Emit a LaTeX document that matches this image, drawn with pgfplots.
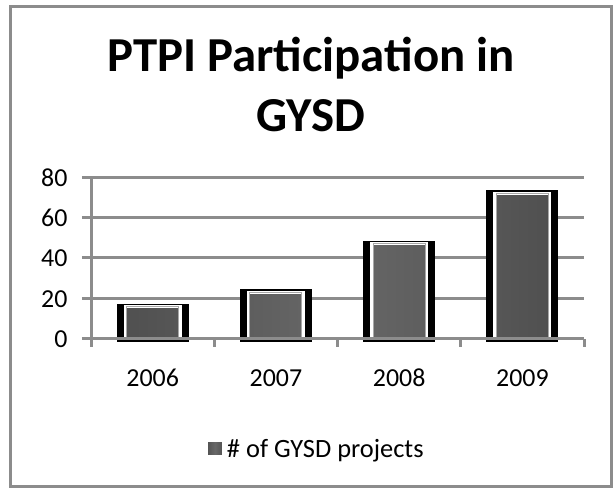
\documentclass[border=0pt]{standalone}
\usepackage{pgfplots}
\pgfplotsset{compat=1.18}
\usepackage{fontspec}
\setmainfont{Carlito}
\definecolor{gridgray}{HTML}{8C8C8C}
\definecolor{bardark}{HTML}{505050}
\definecolor{barmid}{HTML}{686868}
\definecolor{baredge}{HTML}{A8A8A8}
\begin{document}
\begin{tikzpicture}[x=1bp,y=1bp]
\useasboundingbox (0,0) rectangle (613,489);
\draw[gridgray, line width=3bp] (10,2) rectangle (611,482);
\node[font=\fontsize{49}{55}\selectfont\bfseries, anchor=base, inner sep=0pt] at (311,417) {PTPI Participation in};
\node[font=\fontsize{49}{55}\selectfont\bfseries, anchor=base, inner sep=0pt] at (311,357) {GYSD};
\begin{axis}[
  at={(91bp,142bp)}, anchor=south west, scale only axis,
  width=493bp, height=170bp,
  xmin=-0.5, xmax=3.5, ymin=-4, ymax=80,
  axis x line*=bottom, axis y line*=left,
  x axis line style={draw=none},
  y axis line style={gridgray, line width=3bp},
  ytick={0,20,...,80}, ymajorgrids,
  grid style={gridgray, line width=3bp},
  ytick align=outside, major tick length=9bp,
  ytick style={gridgray, line width=3bp},
  xtick={0,1,2,3}, xticklabels={2006,2007,2008,2009},
  major x tick style={draw=none},
  minor xtick={-0.5,0.5,1.5,2.5,3.5},
  minor tick length=8bp, xtick align=inside,
  minor x tick style={gridgray, line width=3bp},
  /pgf/number format/assume math mode=true,
  tick label style={font=\fontsize{26}{30}\selectfont},
  xticklabel style={anchor=base, yshift=-40bp},
  yticklabel style={anchor=base east, xshift=-11bp, yshift=-9bp},
  legend style={at={(0.455,-0.6)}, anchor=center, draw=none, fill=none,
    font=\fontsize{26.5}{30}\selectfont},
  legend image code/.code={\fill[left color=bardark,right color=bardark,middle color=barmid] (0bp,-8bp) rectangle (17bp,8bp);},
]
\addplot[ybar, bar width=66bp, bar shift=0pt, fill=black, draw=black, line width=6bp, forget plot]
  coordinates {(0,16) (1,23) (2,47) (3,72)};
\addplot[ybar, bar width=55bp, bar shift=0pt, draw=white, line width=3bp,
  left color=bardark, right color=bardark, middle color=barmid]
  coordinates {(0,16) (1,23) (2,47) (3,72)};
\addlegendentry{\# of GYSD projects}
\addplot[ybar, bar width=52bp, bar shift=0pt, draw=baredge, line width=0.8bp, fill=none, forget plot]
  coordinates {(0,16) (1,23) (2,47) (3,72)};
\draw[gridgray, line width=3bp] (axis cs:-0.5,0) -- (axis cs:3.5,0);
\end{axis}
\end{tikzpicture}
\end{document}
